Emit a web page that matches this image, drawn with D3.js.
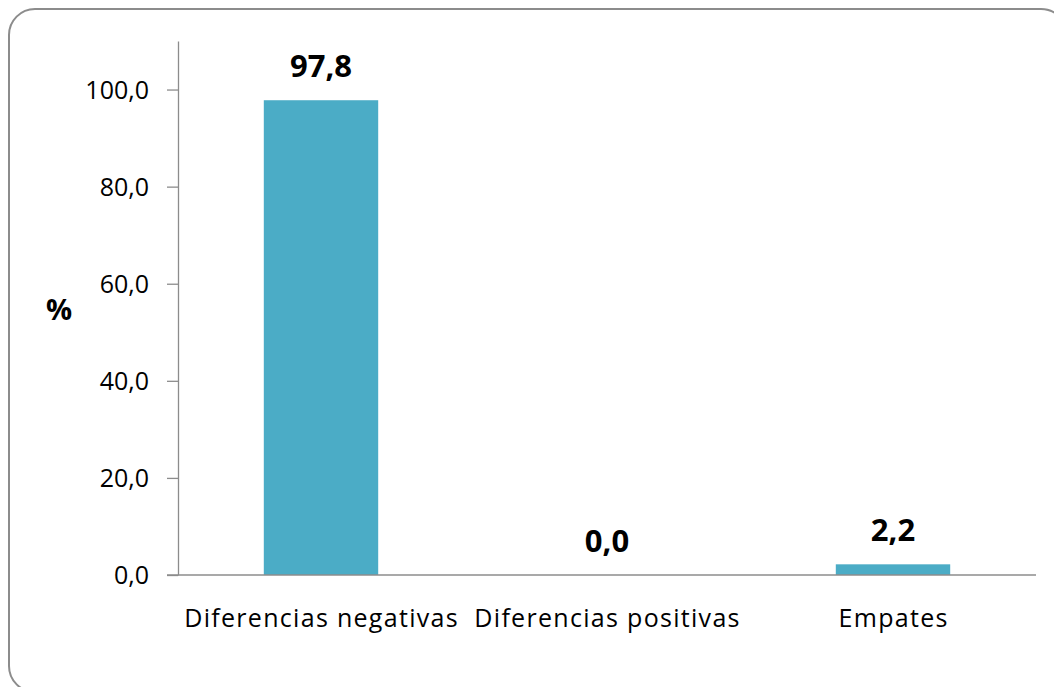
<!DOCTYPE html>
<html>
<head>
<meta charset="utf-8">
<script src="https://cdn.jsdelivr.net/npm/d3@7"></script>
<style>
  html, body { margin: 0; padding: 0; background: #fff; }
  svg text { font-family: "Open Sans", "Noto Sans", sans-serif; fill: #000; }
</style>
</head>
<body>
<svg id="chart" width="1054" height="687"></svg>
<script>
'use strict';

var categories = ['Diferencias negativas', 'Diferencias positivas', 'Empates'];
var values = [97.8, 0.0, 2.2];
var yTicks = [0, 20, 40, 60, 80, 100];
var yLabel = '%';

var svg = d3.select('#chart');
var fmt = function(v) { return d3.format('.1f')(v).replace('.', ','); };

// outer frame (runs off the right/bottom edges)
svg.append('rect')
  .attr('x', 9).attr('y', 9)
  .attr('width', 1058).attr('height', 683)
  .attr('rx', 26).attr('ry', 26)
  .attr('fill', '#fff')
  .attr('stroke', '#8c8c8c')
  .attr('stroke-width', 2);

var plotLeft = 178, plotRight = 1036, plotTop = 41, plotBottom = 575;

var x = d3.scaleBand()
  .domain(categories)
  .range([plotLeft, plotRight])
  .paddingInner(0.6)
  .paddingOuter(0.3);

var y = d3.scaleLinear()
  .domain([0, 110])
  .range([plotBottom, plotTop]);

// y axis
var yAxis = svg.append('g')
  .attr('transform', 'translate(' + plotLeft + ',0)')
  .call(d3.axisLeft(y).tickValues(yTicks).tickSize(11).tickPadding(18).tickFormat(fmt).tickSizeOuter(0));
yAxis.select('.domain').attr('stroke', '#8c8c8c').attr('stroke-width', 1.3);
yAxis.selectAll('.tick line').attr('stroke', '#8c8c8c').attr('stroke-width', 1.3);
yAxis.selectAll('.tick text')
  .style('font-size', '25px')
  .attr('dy', '0.35em')
  .attr('fill', '#000');

// bars
svg.selectAll('rect.bar')
  .data(values)
  .enter()
  .append('rect')
  .attr('class', 'bar')
  .attr('x', function(d, i) { return x(categories[i]); })
  .attr('width', x.bandwidth())
  .attr('y', function(d) { return y(d); })
  .attr('height', function(d) { return y(0) - y(d); })
  .attr('fill', '#4bacc6');

// x axis
svg.append('line')
  .attr('x1', plotLeft - 11).attr('x2', plotRight)
  .attr('y1', plotBottom).attr('y2', plotBottom)
  .attr('stroke', '#8c8c8c')
  .attr('stroke-width', 1.3);

svg.selectAll('text.cat')
  .data(categories)
  .enter()
  .append('text')
  .attr('class', 'cat')
  .attr('x', function(d) { return x(d) + x.bandwidth() / 2 + 0.6; })
  .attr('y', 627)
  .attr('text-anchor', 'middle')
  .style('font-size', '25px')
  .style('letter-spacing', '1.3px')
  .text(function(d) { return d; });

// value labels
svg.selectAll('text.val')
  .data(values)
  .enter()
  .append('text')
  .attr('class', 'val')
  .attr('x', function(d, i) { return x(categories[i]) + x.bandwidth() / 2; })
  .attr('y', function(d) { return y(d) - 23; })
  .attr('text-anchor', 'middle')
  .style('font-size', '31px')
  .style('font-weight', 'bold')
  .text(fmt);

// y label
svg.append('text')
  .attr('x', 59)
  .attr('y', 310)
  .attr('dy', '0.35em')
  .attr('text-anchor', 'middle')
  .style('font-size', '29px')
  .style('font-weight', 'bold')
  .text(yLabel);
</script>
</body>
</html>
